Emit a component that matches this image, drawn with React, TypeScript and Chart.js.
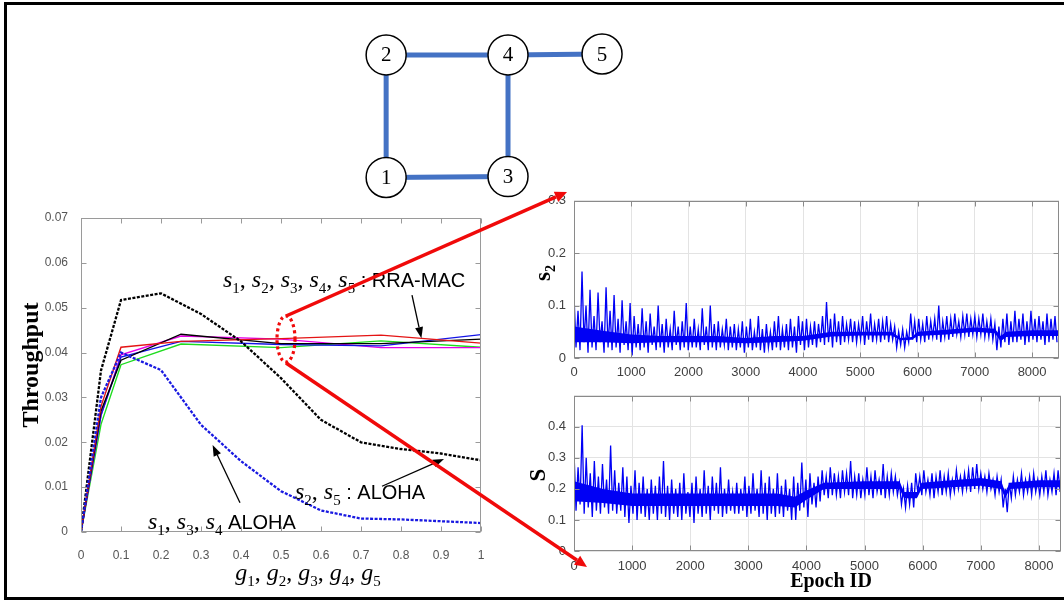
import React, { useEffect, useRef } from "react";
import { Chart, registerables } from "chart.js";
Chart.register(...registerables);

// ---------------- Left chart: throughput vs offered load ----------------
const gAloha = [0, 0.05, 0.1, 0.2, 0.3, 0.4, 0.5, 0.6, 0.7, 0.8, 0.9, 1];
const alohaS2S5 = [0, 0.036, 0.0517, 0.0532, 0.0486, 0.0425, 0.0343, 0.025, 0.02, 0.0185, 0.0175, 0.016];
const alohaS1S3S4 = [0, 0.03, 0.04, 0.0361, 0.0239, 0.0158, 0.0091, 0.0048, 0.003, 0.0028, 0.0024, 0.002];
const gRra = [0, 0.05, 0.1, 0.25, 0.5, 0.75, 1];
const rraRed = [0, 0.028, 0.0412, 0.0425, 0.0431, 0.0439, 0.0421];
const rraBlack = [0, 0.027, 0.0383, 0.0441, 0.042, 0.042, 0.043];
const rraBlue = [0, 0.026, 0.039, 0.0425, 0.0418, 0.0415, 0.044];
const rraMagenta = [0, 0.026, 0.0395, 0.0437, 0.043, 0.0411, 0.0411];
const rraGreen = [0, 0.024, 0.0373, 0.0419, 0.0411, 0.0426, 0.0412];

// annotation anchors (data units of the left chart)
const rraLabelAt = [0.355, 0.0546];
const aloha25LabelAt = [0.535, 0.0074];
const aloha134LabelAt = [0.1675, 0.0007];
const rraArrow = [0.8275, 0.0528, 0.851, 0.0432];
const aloha25Arrow = [0.7525, 0.0102, 0.9075, 0.0163];
const aloha134Arrow = [0.3975, 0.0065, 0.329, 0.0194];

// ---------------- Right charts: time series per epoch ----------------
const epochTicks = [0, 1000, 2000, 3000, 4000, 5000, 6000, 7000, 8000];
const epochMax = [8470, 8380];
const EPOCH_STEP = 35;
const s2Samples = [
  0.12, 0.02, 0.09, 0.015, 0.165, 0.03, 0.1, 0.01, 0.13, 0.02, 0.08, 0.015, 0.125, 0.03, 0.07, 0.01, 0.135, 0.02, 0.09, 0.015,
  0.12, 0.02, 0.075, 0.01, 0.11, 0.025, 0.07, 0.015, 0.105, 0.005, 0.08, 0.02, 0.065, 0.015, 0.095, 0.02, 0.07, 0.01, 0.085, 0.025,
  0.06, 0.015, 0.1, 0.02, 0.065, 0.01, 0.075, 0.02, 0.055, 0.015, 0.09, 0.025, 0.06, 0.015, 0.07, 0.02, 0.105, 0.015, 0.06, 0.02,
  0.075, 0.02, 0.055, 0.015, 0.095, 0.025, 0.06, 0.015, 0.1, 0.02, 0.065, 0.015, 0.07, 0.02, 0.055, 0.025, 0.075, 0.015, 0.06, 0.02,
  0.065, 0.015, 0.055, 0.02, 0.07, 0.01, 0.06, 0.02, 0.075, 0.015, 0.05, 0.02, 0.08, 0.015, 0.055, 0.01, 0.065, 0.02, 0.05, 0.015,
  0.07, 0.02, 0.08, 0.015, 0.055, 0.02, 0.065, 0.015, 0.075, 0.02, 0.06, 0.01, 0.08, 0.025, 0.07, 0.015, 0.075, 0.02, 0.06, 0.025,
  0.07, 0.02, 0.065, 0.03, 0.08, 0.025, 0.107, 0.03, 0.075, 0.02, 0.085, 0.03, 0.07, 0.025, 0.08, 0.03, 0.065, 0.035, 0.075, 0.03,
  0.07, 0.03, 0.065, 0.035, 0.08, 0.025, 0.07, 0.035, 0.085, 0.03, 0.065, 0.035, 0.075, 0.03, 0.07, 0.035, 0.08, 0.03, 0.065, 0.035,
  0.06, 0.02, 0.05, 0.025, 0.055, 0.02, 0.05, 0.03, 0.085, 0.035, 0.07, 0.03, 0.075, 0.035, 0.065, 0.03, 0.08, 0.035, 0.07, 0.04,
  0.075, 0.035, 0.1, 0.03, 0.07, 0.04, 0.08, 0.035, 0.075, 0.04, 0.085, 0.045, 0.07, 0.04, 0.08, 0.045, 0.085, 0.04, 0.075, 0.045,
  0.08, 0.04, 0.075, 0.045, 0.085, 0.04, 0.07, 0.04, 0.075, 0.035, 0.065, 0.015, 0.06, 0.02, 0.075, 0.03, 0.085, 0.025, 0.07, 0.03,
  0.09, 0.03, 0.075, 0.035, 0.085, 0.025, 0.07, 0.03, 0.09, 0.035, 0.075, 0.03, 0.08, 0.035, 0.07, 0.025, 0.085, 0.03, 0.075, 0.035,
  0.08, 0.03,
];
// dense core of the s2 trace (epoch, lower, upper)
const s2CoreEpoch = [0, 500, 1000, 1500, 2000, 2500, 3000, 3500, 4000, 4500, 5000, 5550, 5700, 5900, 6000, 6500, 7000, 7350, 7450, 7550, 8000, 8470];
const s2CoreLow = [0.03, 0.03, 0.028, 0.03, 0.03, 0.03, 0.028, 0.03, 0.033, 0.041, 0.043, 0.043, 0.034, 0.035, 0.042, 0.045, 0.05, 0.047, 0.032, 0.04, 0.042, 0.042];
const s2CoreHigh = [0.06, 0.052, 0.045, 0.042, 0.042, 0.042, 0.038, 0.042, 0.042, 0.05, 0.05, 0.05, 0.038, 0.04, 0.05, 0.054, 0.058, 0.056, 0.042, 0.05, 0.053, 0.053];
const sSamples = [
  0.32, 0.13, 0.27, 0.15, 0.405, 0.12, 0.3, 0.14, 0.25, 0.11, 0.29, 0.13, 0.24, 0.12, 0.28, 0.14, 0.23, 0.12, 0.34, 0.13,
  0.26, 0.12, 0.22, 0.13, 0.27, 0.11, 0.24, 0.09, 0.21, 0.12, 0.26, 0.1, 0.22, 0.12, 0.24, 0.11, 0.2, 0.1, 0.23, 0.12,
  0.21, 0.1, 0.24, 0.12, 0.29, 0.11, 0.21, 0.1, 0.23, 0.12, 0.2, 0.11, 0.22, 0.1, 0.25, 0.12, 0.19, 0.11, 0.22, 0.09,
  0.24, 0.12, 0.2, 0.11, 0.26, 0.12, 0.21, 0.1, 0.24, 0.13, 0.22, 0.12, 0.27, 0.11, 0.2, 0.12, 0.23, 0.13, 0.19, 0.12,
  0.22, 0.12, 0.2, 0.13, 0.24, 0.11, 0.21, 0.12, 0.25, 0.13, 0.2, 0.11, 0.26, 0.12, 0.22, 0.1, 0.24, 0.12, 0.2, 0.11,
  0.25, 0.12, 0.21, 0.11, 0.23, 0.13, 0.2, 0.1, 0.24, 0.1, 0.22, 0.13, 0.285, 0.14, 0.23, 0.11, 0.25, 0.15, 0.22, 0.14,
  0.24, 0.16, 0.26, 0.18, 0.24, 0.17, 0.27, 0.18, 0.25, 0.18, 0.24, 0.17, 0.26, 0.19, 0.25, 0.18, 0.29, 0.17, 0.24, 0.18,
  0.25, 0.17, 0.23, 0.18, 0.27, 0.18, 0.24, 0.17, 0.26, 0.19, 0.23, 0.18, 0.28, 0.17, 0.24, 0.18, 0.25, 0.19, 0.24, 0.18,
  0.22, 0.15, 0.2, 0.14, 0.21, 0.15, 0.22, 0.14, 0.25, 0.19, 0.24, 0.18, 0.26, 0.19, 0.23, 0.18, 0.25, 0.17, 0.24, 0.19,
  0.26, 0.18, 0.24, 0.19, 0.25, 0.18, 0.23, 0.19, 0.26, 0.2, 0.24, 0.19, 0.25, 0.2, 0.26, 0.19, 0.27, 0.2, 0.28, 0.2,
  0.25, 0.2, 0.24, 0.19, 0.25, 0.2, 0.23, 0.18, 0.24, 0.19, 0.23, 0.14, 0.2, 0.125, 0.22, 0.17, 0.24, 0.18, 0.23, 0.19,
  0.25, 0.18, 0.23, 0.19, 0.24, 0.18, 0.25, 0.19, 0.23, 0.18, 0.24, 0.19, 0.26, 0.18, 0.23, 0.19, 0.25, 0.18, 0.26, 0.19,
];
// dense core of the S trace (epoch, lower, upper)
const sCoreEpoch = [0, 500, 1000, 1500, 2000, 2500, 3000, 3500, 3800, 4000, 4300, 5000, 5600, 5680, 5900, 5980, 6500, 7000, 7350, 7420, 7500, 8000, 8380];
const sCoreLow = [0.16, 0.155, 0.145, 0.145, 0.145, 0.145, 0.145, 0.145, 0.14, 0.165, 0.2, 0.2, 0.2, 0.17, 0.17, 0.2, 0.205, 0.21, 0.2, 0.17, 0.2, 0.205, 0.205];
const sCoreHigh = [0.225, 0.2, 0.185, 0.185, 0.185, 0.185, 0.185, 0.185, 0.175, 0.195, 0.22, 0.225, 0.225, 0.19, 0.19, 0.22, 0.228, 0.235, 0.225, 0.19, 0.22, 0.228, 0.228];

// ---------------- Network topology ----------------
const nodeIds = ["1", "2", "3", "4", "5"];
const nodeX = [380, 380, 507, 507, 605];
const nodeY = [168, 36, 167, 36, 35];
const edges = [
  [1, 3],
  [3, 4],
  [1, 0],
  [0, 2],
  [2, 3],
];

// red zoom-in callout (page pixels)
const calloutEllipse = [286, 339, 9, 23];
const calloutArrows = [
  [286, 316, 567, 192],
  [286, 363, 587, 567],
];

const SANS = '"Liberation Sans", Arial, sans-serif';
const SERIF = '"Liberation Serif", "Times New Roman", serif';
const TRACE_BLUE = "rgb(0,0,245)";

type Seg = { t: string; f: string; dy?: number };

function mathSeq(letter: string, subs: string[], size: number, sep = ", "): Seg[] {
  const out: Seg[] = [];
  subs.forEach((s, i) => {
    out.push({ t: letter, f: `italic ${size}px ${SERIF}` });
    out.push({ t: s, f: `${Math.round(size * 0.64)}px ${SERIF}`, dy: Math.round(size * 0.24) });
    if (i < subs.length - 1) out.push({ t: sep, f: `${size}px ${SERIF}` });
  });
  return out;
}

function segsWidth(ctx: CanvasRenderingContext2D, segs: Seg[]) {
  let w = 0;
  for (const s of segs) {
    ctx.font = s.f;
    w += ctx.measureText(s.t).width;
  }
  return w;
}

function drawSegs(ctx: CanvasRenderingContext2D, segs: Seg[], x: number, y: number, color = "#000") {
  ctx.save();
  ctx.fillStyle = color;
  ctx.textAlign = "left";
  ctx.textBaseline = "alphabetic";
  let cx = x;
  for (const s of segs) {
    ctx.font = s.f;
    ctx.fillText(s.t, cx, y + (s.dy || 0));
    cx += ctx.measureText(s.t).width;
  }
  ctx.restore();
}

function arrow(
  ctx: CanvasRenderingContext2D,
  x1: number,
  y1: number,
  x2: number,
  y2: number,
  color: string,
  lw: number,
  headLen: number,
  headW: number
) {
  const ang = Math.atan2(y2 - y1, x2 - x1);
  const bx = x2 - headLen * Math.cos(ang);
  const by = y2 - headLen * Math.sin(ang);
  ctx.save();
  ctx.strokeStyle = color;
  ctx.fillStyle = color;
  ctx.lineWidth = lw;
  ctx.setLineDash([]);
  ctx.beginPath();
  ctx.moveTo(x1, y1);
  ctx.lineTo(bx, by);
  ctx.stroke();
  ctx.beginPath();
  ctx.moveTo(x2, y2);
  ctx.lineTo(bx + headW * Math.sin(ang), by - headW * Math.cos(ang));
  ctx.lineTo(bx - headW * Math.sin(ang), by + headW * Math.cos(ang));
  ctx.closePath();
  ctx.fill();
  ctx.restore();
}

function matlabBox(color: string, tickLen: number) {
  return {
    id: "matlabBox",
    afterDatasetsDraw(chart: any) {
      const { ctx, chartArea: a, scales } = chart;
      const L = Math.round(a.left) + 0.5;
      const R = Math.round(a.right) - 0.5;
      const T = Math.round(a.top) + 0.5;
      const B = Math.round(a.bottom) - 0.5;
      ctx.save();
      ctx.strokeStyle = color;
      ctx.lineWidth = 1;
      ctx.setLineDash([]);
      ctx.strokeRect(L, T, R - L, B - T);
      ctx.beginPath();
      for (const t of scales.x.ticks) {
        const px = Math.round(scales.x.getPixelForValue(t.value)) + 0.5;
        ctx.moveTo(px, B);
        ctx.lineTo(px, B - tickLen);
        ctx.moveTo(px, T);
        ctx.lineTo(px, T + tickLen);
      }
      for (const t of scales.y.ticks) {
        const py = Math.round(scales.y.getPixelForValue(t.value)) + 0.5;
        ctx.moveTo(L, py);
        ctx.lineTo(L + tickLen, py);
        ctx.moveTo(R, py);
        ctx.lineTo(R - tickLen, py);
      }
      ctx.stroke();
      ctx.restore();
    },
  };
}

const fmt = (v: number) => String(Math.round(v * 1000) / 1000);

function pts(xs: number[], ys: number[]) {
  return ys.map((y, i) => ({ x: xs[i], y }));
}
function series(samples: number[]) {
  return samples.map((y, i) => ({ x: i * EPOCH_STEP, y }));
}

export default function App() {
  const leftRef = useRef<HTMLCanvasElement>(null);
  const topRef = useRef<HTMLCanvasElement>(null);
  const botRef = useRef<HTMLCanvasElement>(null);
  const ovRef = useRef<HTMLCanvasElement>(null);

  useEffect(() => {
    const charts: Chart[] = [];
    const tickFontL = { family: SANS, size: 12 };
    const tickFontR = { family: SANS, size: 13 };

    // ---------- left chart ----------
    const solid = (data: number[], color: string) => ({
      data: pts(gRra, data),
      borderColor: color,
      borderWidth: 1.4,
      pointRadius: 0,
      tension: 0,
      fill: false,
    });
    const leftAnn = {
      id: "leftAnn",
      afterDraw(chart: any) {
        const { ctx, chartArea: a, scales } = chart;
        const X = (g: number) => scales.x.getPixelForValue(g);
        const Y = (v: number) => scales.y.getPixelForValue(v);
        for (const ar of [rraArrow, aloha25Arrow, aloha134Arrow]) {
          arrow(ctx, X(ar[0]), Y(ar[1]), X(ar[2]), Y(ar[3]), "#000", 1.3, 11, 4);
        }
        drawSegs(
          ctx,
          [...mathSeq("s", ["1", "2", "3", "4", "5"], 24, ", "), { t: " : RRA-MAC", f: `20px ${SANS}` }],
          X(rraLabelAt[0]),
          Y(rraLabelAt[1])
        );
        drawSegs(
          ctx,
          [...mathSeq("s", ["2", "5"], 24, ", "), { t: " : ALOHA", f: `20px ${SANS}` }],
          X(aloha25LabelAt[0]),
          Y(aloha25LabelAt[1])
        );
        drawSegs(
          ctx,
          [...mathSeq("s", ["1", "3", "4"], 24, ", "), { t: " ALOHA", f: `20px ${SANS}` }],
          X(aloha134LabelAt[0]),
          Y(aloha134LabelAt[1])
        );
        // axis titles
        const xt = mathSeq("g", ["1", "2", "3", "4", "5"], 24, ", ");
        const w = segsWidth(ctx, xt);
        drawSegs(ctx, xt, (a.left + a.right) / 2 - w / 2 + 27, a.bottom + 48);
        ctx.save();
        ctx.translate(a.left - 49.5, (a.top + a.bottom) / 2 - 10);
        ctx.rotate(-Math.PI / 2);
        ctx.font = `bold 24px ${SERIF}`;
        ctx.fillStyle = "#000";
        ctx.textAlign = "center";
        ctx.textBaseline = "middle";
        ctx.fillText("Throughput", 0, 0);
        ctx.restore();
      },
    };
    charts.push(
      new Chart(leftRef.current!, {
        type: "line",
        data: {
          datasets: [
            {
              data: pts(gAloha, alohaS1S3S4),
              borderColor: "rgb(25,25,225)",
              borderWidth: 2.3,
              borderDash: [3, 1.5],
              pointRadius: 0,
              fill: false,
            },
            {
              data: pts(gAloha, alohaS2S5),
              borderColor: "#000",
              borderWidth: 2.3,
              borderDash: [3, 1.5],
              pointRadius: 0,
              fill: false,
            },
            solid(rraRed, "rgb(228,20,20)"),
            solid(rraBlack, "#000"),
            solid(rraBlue, "rgb(20,20,230)"),
            solid(rraMagenta, "rgb(230,0,230)"),
            solid(rraGreen, "rgb(30,220,30)"),
          ],
        },
        options: {
          responsive: false,
          animation: false,
          events: [],
          layout: { padding: { left: 0, top: 18, right: 19, bottom: 0 } },
          plugins: { legend: { display: false }, tooltip: { enabled: false } },
          scales: {
            x: {
              type: "linear",
              min: 0,
              max: 1,
              afterFit: (s: any) => {
                s.height = 63;
              },
              grid: { display: false },
              border: { display: false },
              ticks: {
                stepSize: 0.1,
                autoSkip: false,
                maxRotation: 0,
                padding: 8,
                color: "#555",
                font: tickFontL,
                callback: (v: any) => fmt(Number(v)),
              },
            },
            y: {
              type: "linear",
              min: 0,
              max: 0.07,
              afterFit: (s: any) => {
                s.width = 71;
              },
              grid: { display: false },
              border: { display: false },
              ticks: {
                stepSize: 0.01,
                autoSkip: false,
                padding: 5,
                color: "#555",
                font: tickFontL,
                callback: (v: any) => fmt(Number(v)),
              },
            },
          },
        },
        plugins: [matlabBox("#9a9a9a", 5), leftAnn],
      } as any)
    );

    // ---------- right charts ----------
    const rightChart = (
      canvas: HTMLCanvasElement,
      samples: number[],
      coreX: number[],
      coreLow: number[],
      coreHigh: number[],
      xMax: number,
      yMax: number,
      padTop: number,
      padRight: number,
      xAxisH: number,
      labelPad: number,
      hideTop: boolean,
      titlePlugin: any
    ) =>
      new Chart(canvas, {
        type: "line",
        data: {
          datasets: [
            {
              data: series(samples),
              borderColor: TRACE_BLUE,
              borderWidth: 1.3,
              pointRadius: 0,
              tension: 0,
              fill: false,
            },
            {
              data: pts(coreX, coreHigh),
              borderColor: TRACE_BLUE,
              borderWidth: 0,
              backgroundColor: TRACE_BLUE,
              pointRadius: 0,
              tension: 0,
              fill: "+1",
            },
            {
              data: pts(coreX, coreLow),
              borderColor: TRACE_BLUE,
              borderWidth: 0,
              pointRadius: 0,
              tension: 0,
              fill: false,
            },
          ],
        },
        options: {
          responsive: false,
          animation: false,
          events: [],
          layout: { padding: { left: 0, top: padTop, right: padRight, bottom: 0 } },
          plugins: { legend: { display: false }, tooltip: { enabled: false }, filler: { propagate: false } },
          scales: {
            x: {
              type: "linear",
              min: 0,
              max: xMax,
              afterFit: (s: any) => {
                s.height = xAxisH;
              },
              afterBuildTicks: (s: any) => {
                s.ticks = epochTicks.map((v) => ({ value: v }));
              },
              grid: { color: "#e3e3e3", drawTicks: false },
              border: { display: false },
              ticks: {
                autoSkip: false,
                maxRotation: 0,
                padding: labelPad,
                color: "#404040",
                font: tickFontR,
                callback: (v: any) => String(v),
              },
            },
            y: {
              type: "linear",
              min: 0,
              max: yMax,
              afterFit: (s: any) => {
                s.width = 54;
              },
              grid: { color: "#e3e3e3", drawTicks: false },
              border: { display: false },
              ticks: {
                stepSize: 0.1,
                includeBounds: false,
                autoSkip: false,
                padding: 8,
                color: "#404040",
                font: tickFontR,
                callback: (v: any) => (hideTop && Number(v) >= yMax - 1e-9 ? "" : fmt(Number(v))),
              },
            },
          },
        },
        plugins: [matlabBox("#8a8a8a", 5), titlePlugin],
      } as any);

    const topTitle = {
      id: "topTitle",
      afterDraw(chart: any) {
        const { ctx } = chart;
        const segs: Seg[] = [
          { t: "s", f: `bold 23px ${SERIF}` },
          { t: "2", f: `bold 14px ${SERIF}`, dy: 5 },
        ];
        ctx.save();
        ctx.translate(30, 88);
        ctx.rotate(-Math.PI / 2);
        const w = segsWidth(ctx, segs);
        drawSegs(ctx, segs, -w / 2, 0);
        ctx.restore();
      },
    };
    const botTitle = {
      id: "botTitle",
      afterDraw(chart: any) {
        const { ctx } = chart;
        ctx.save();
        ctx.fillStyle = "#000";
        ctx.textAlign = "center";
        ctx.textBaseline = "alphabetic";
        ctx.font = `bold 20px ${SERIF}`;
        ctx.fillText("Epoch ID", 311, 207);
        ctx.translate(25, 95);
        ctx.rotate(-Math.PI / 2);
        ctx.font = `bold 23px ${SERIF}`;
        ctx.fillText("S", 0, 0);
        ctx.restore();
      },
    };
    charts.push(
      rightChart(topRef.current!, s2Samples, s2CoreEpoch, s2CoreLow, s2CoreHigh, epochMax[0], 0.3, 14, 5, 27, 7, false, topTitle)
    );
    charts.push(
      rightChart(botRef.current!, sSamples, sCoreEpoch, sCoreLow, sCoreHigh, epochMax[1], 0.5, 12, 3, 50, 8, true, botTitle)
    );

    // ---------- overlay: network graph + callout ----------
    const ovPlugin = {
      id: "ovPlugin",
      afterDraw(chart: any) {
        const { ctx, scales } = chart;
        ctx.save();
        ctx.fillStyle = "#000";
        ctx.textAlign = "center";
        ctx.textBaseline = "middle";
        ctx.font = `21px ${SERIF}`;
        nodeIds.forEach((id, i) => {
          ctx.fillText(id, scales.x.getPixelForValue(nodeX[i]), scales.y.getPixelForValue(nodeY[i]) + 1);
        });
        ctx.restore();
        ctx.save();
        ctx.strokeStyle = "rgb(240,10,10)";
        ctx.lineWidth = 3.2;
        ctx.setLineDash([3, 3]);
        ctx.beginPath();
        ctx.ellipse(calloutEllipse[0], calloutEllipse[1], calloutEllipse[2], calloutEllipse[3], 0, 0, Math.PI * 2);
        ctx.stroke();
        ctx.restore();
        for (const a of calloutArrows) arrow(ctx, a[0], a[1], a[2], a[3], "rgb(240,10,10)", 3.4, 12, 5.5);
        ctx.save();
        ctx.strokeStyle = "#000";
        ctx.lineWidth = 3;
        ctx.beginPath();
        ctx.moveTo(5.5, 2);
        ctx.lineTo(5.5, 599);
        ctx.moveTo(4, 3.5);
        ctx.lineTo(1064, 3.5);
        ctx.moveTo(4, 598.5);
        ctx.lineTo(1064, 598.5);
        ctx.stroke();
        ctx.restore();
      },
    };
    const edgeSets = edges.map(([a, b]) => ({
      type: "scatter",
      showLine: true,
      data: [
        { x: nodeX[a], y: nodeY[a] },
        { x: nodeX[b], y: nodeY[b] },
      ],
      borderColor: "rgb(68,114,196)",
      borderWidth: 5,
      pointRadius: 0,
      clip: false,
    }));
    charts.push(
      new Chart(ovRef.current!, {
        type: "scatter",
        data: {
          datasets: [
            {
              data: nodeX.map((x, i) => ({ x, y: nodeY[i] })),
              pointRadius: 20,
              pointBackgroundColor: "#fff",
              pointBorderColor: "#000",
              pointBorderWidth: 1.5,
              clip: false,
            },
            ...edgeSets,
          ],
        },
        options: {
          responsive: false,
          animation: false,
          events: [],
          layout: { padding: 0 },
          plugins: { legend: { display: false }, tooltip: { enabled: false } },
          scales: {
            x: { type: "linear", min: 0, max: 1064, display: false },
            y: { type: "linear", min: 0, max: 601, reverse: true, display: false },
          },
        },
        plugins: [ovPlugin],
      } as any)
    );

    return () => charts.forEach((c) => c.destroy());
  }, []);

  const abs = (l: number, t: number, z = 1): React.CSSProperties => ({
    position: "absolute",
    left: l,
    top: t,
    display: "block",
    zIndex: z,
  });

  return (
    <div style={{ position: "absolute", left: 0, top: 0, width: 1064, height: 601, background: "#fff", overflow: "hidden" }}>
      <canvas ref={leftRef} width={490} height={395} style={abs(10, 200)} />
      <canvas ref={topRef} width={544} height={200} style={abs(520, 185)} />
      <canvas ref={botRef} width={544} height={221} style={abs(520, 380)} />
      <canvas ref={ovRef} width={1064} height={601} style={{ ...abs(0, 0, 10), pointerEvents: "none" }} />
    </div>
  );
}
